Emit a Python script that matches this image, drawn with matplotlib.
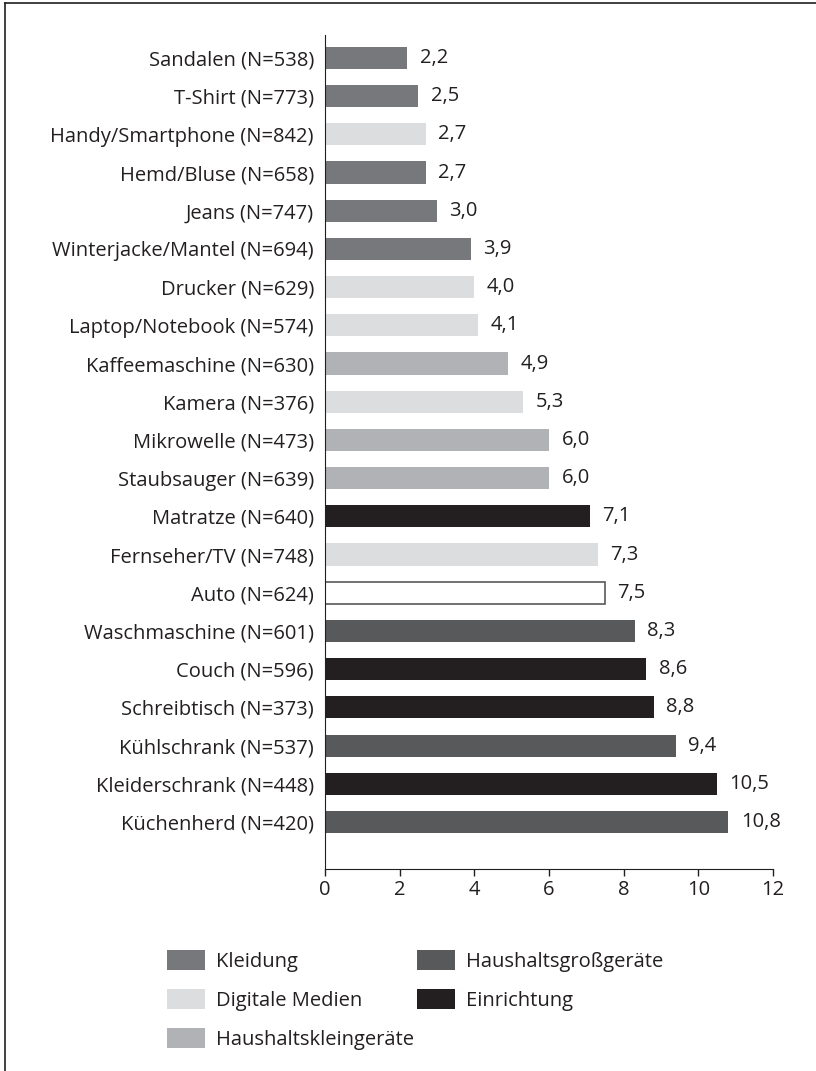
import matplotlib
matplotlib.use('Agg')
import matplotlib.pyplot as plt
from matplotlib.patches import Patch
from matplotlib.lines import Line2D

plt.rcParams['font.family'] = ['Open Sans', 'DejaVu Sans']

# data (top to bottom)
items = ['Sandalen (N=538)', 'T-Shirt (N=773)', 'Handy/Smartphone (N=842)', 'Hemd/Bluse (N=658)',
         'Jeans (N=747)', 'Winterjacke/Mantel (N=694)', 'Drucker (N=629)', 'Laptop/Notebook (N=574)',
         'Kaffeemaschine (N=630)', 'Kamera (N=376)', 'Mikrowelle (N=473)', 'Staubsauger (N=639)',
         'Matratze (N=640)', 'Fernseher/TV (N=748)', 'Auto (N=624)', 'Waschmaschine (N=601)',
         'Couch (N=596)', 'Schreibtisch (N=373)', 'Kühlschrank (N=537)', 'Kleiderschrank (N=448)',
         'Küchenherd (N=420)']
values = [2.2, 2.5, 2.7, 2.7, 3.0, 3.9, 4.0, 4.1, 4.9, 5.3, 6.0, 6.0, 7.1, 7.3, 7.5, 8.3,
          8.6, 8.8, 9.4, 10.5, 10.8]
groups = ['Kleidung', 'Kleidung', 'Digitale Medien', 'Kleidung', 'Kleidung', 'Kleidung',
          'Digitale Medien', 'Digitale Medien', 'Haushaltskleingeräte', 'Digitale Medien',
          'Haushaltskleingeräte', 'Haushaltskleingeräte', 'Einrichtung', 'Digitale Medien',
          'Auto', 'Haushaltsgroßgeräte', 'Einrichtung', 'Einrichtung', 'Haushaltsgroßgeräte',
          'Einrichtung', 'Haushaltsgroßgeräte']
x_ticks = [0, 2, 4, 6, 8, 10, 12]

colors = {
    'Kleidung': '#77787b',
    'Digitale Medien': '#dcdddf',
    'Haushaltskleingeräte': '#b1b2b5',
    'Haushaltsgroßgeräte': '#58595b',
    'Einrichtung': '#231f20',
    'Auto': '#ffffff',
}
legend_col1 = ['Kleidung', 'Digitale Medien', 'Haushaltskleingeräte']
legend_col2 = ['Haushaltsgroßgeräte', 'Einrichtung']

fs = 14.5
W, H = 816, 1071
fig = plt.figure(figsize=(W / 100, H / 100), dpi=100)
ax = fig.add_axes([325 / W, 1 - 869 / H, (773 - 325) / W, (869 - 35) / H])

ypos = list(range(len(items)))
for y, v, g in zip(ypos, values, groups):
    edge = '#58595b' if g == 'Auto' else 'none'
    ax.barh(y, v, height=0.58, color=colors[g], edgecolor=edge, linewidth=1.2)
    ax.annotate(f'{v:.1f}'.replace('.', ','), xy=(v, y), xytext=(9, 0),
                textcoords='offset points', va='center', ha='left', fontsize=fs,
                color='#231f20')

ax.set_ylim(len(items) - 1 + 1.23, -0.6)
ax.set_xlim(0, 12)
ax.set_yticks(ypos)
ax.set_yticklabels(items, fontsize=fs, color='#231f20')
ax.set_xticks(x_ticks)
ax.set_xticklabels([str(t) for t in x_ticks], fontsize=fs, color='#231f20')
ax.tick_params(axis='y', length=0, pad=8)
ax.tick_params(axis='x', length=5, width=1, direction='out', pad=3, color='#231f20')
for s in ['top', 'right']:
    ax.spines[s].set_visible(False)
ax.spines['left'].set_color('#231f20')
ax.spines['bottom'].set_color('#231f20')

# legend in two separately placed columns
leg_kw = dict(loc='upper left', frameon=False, fontsize=fs, handlelength=1.9,
              handleheight=1.15, handletextpad=0.55, labelspacing=0.85,
              borderpad=0, borderaxespad=0, labelcolor='#231f20')
for names, x0 in [(legend_col1, 167), (legend_col2, 417)]:
    hs = [Patch(facecolor=colors[g], edgecolor='none', label=g) for g in names]
    fig.legend(handles=hs, bbox_to_anchor=(x0 / W, 1 - 950 / H), **leg_kw)

# thin frame on top and left like the source page
fig.add_artist(Line2D([5 / W, 1], [1 - 3 / H, 1 - 3 / H], color='#231f20', lw=1.2))
fig.add_artist(Line2D([5 / W, 5 / W], [0, 1 - 3 / H], color='#231f20', lw=1.2))

fig.savefig('out.png', dpi=100)
